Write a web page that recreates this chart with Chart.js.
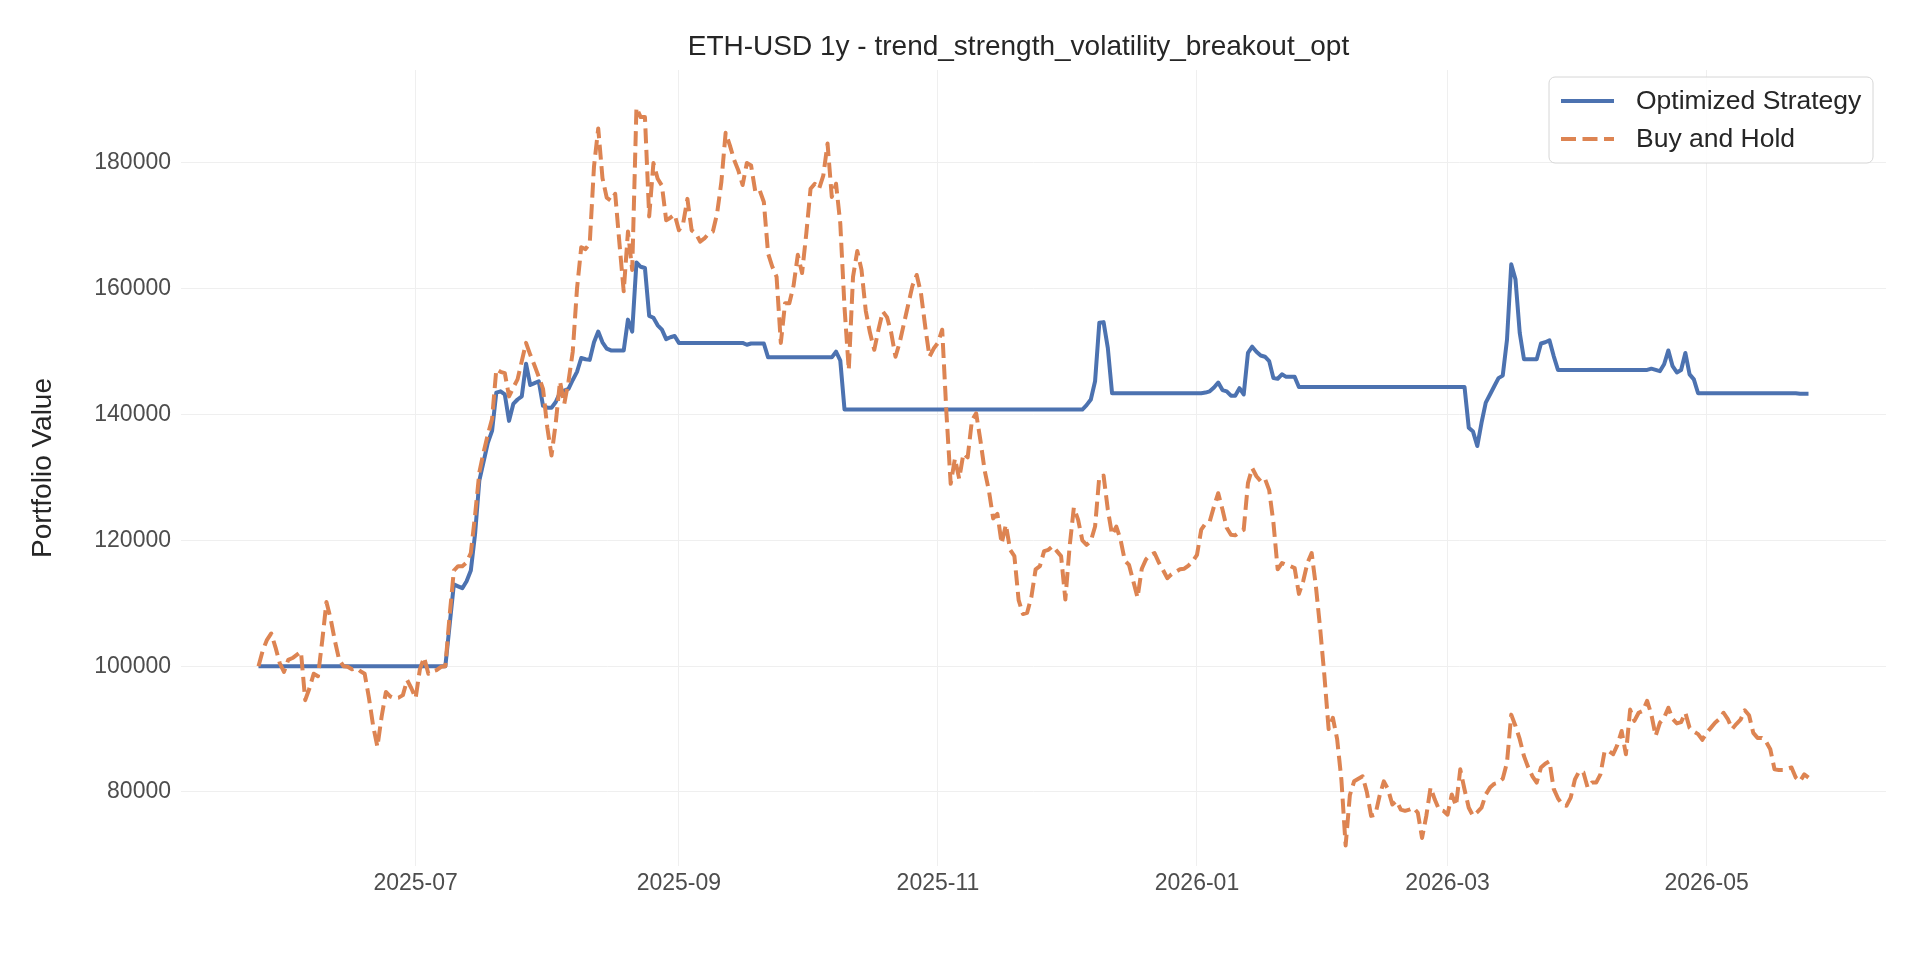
<!DOCTYPE html>
<html><head><meta charset="utf-8">
<script src="https://cdn.jsdelivr.net/npm/chart.js@4.4.1/dist/chart.umd.min.js"></script>
<style>html,body{margin:0;padding:0;background:#fff;}#wrap{width:1920px;height:960px;}</style>
</head><body>
<div id="wrap"><canvas id="c" width="1920" height="960"></canvas></div>
<script>
// ---------------- DATA ----------------
const START_DATE = '2025-05-25';   // first daily observation
const chartTitle = 'ETH-USD 1y - trend_strength_volatility_breakout_opt';
const yAxisTitle = 'Portfolio Value';
const seriesLabels = ['Optimized Strategy', 'Buy and Hold'];
const xTickLabels = ['2025-07', '2025-09', '2025-11', '2026-01', '2026-03', '2026-05'];
const yTickValues = [80000, 100000, 120000, 140000, 160000, 180000];

const strategyValues = [
100000,100000,100000,100000,100000,100000,100000,100000,100000,100000,
100000,100000,100000,100000,100000,100000,100000,100000,100000,100000,
100000,100000,100000,100000,100000,100000,100000,100000,100000,100000,
100000,100000,100000,100000,100000,100000,100000,100000,100000,100000,
100000,100000,100000,100000,100000,106500,113000,112700,112400,113500,
115200,121000,129500,132500,135500,137400,143500,143700,143200,139000,
141700,142400,142900,148100,144700,145000,145300,141400,141100,141100,
142000,143500,143800,144100,145500,146800,149000,148800,148700,151500,
153200,151500,150500,150200,150200,150200,150200,155100,153200,164200,
163500,163300,155700,155400,154200,153500,152000,152300,152500,151400,
151400,151400,151400,151400,151400,151400,151400,151400,151400,151400,
151400,151400,151400,151400,151400,151100,151300,151300,151300,151300,
149100,149100,149100,149100,149100,149100,149100,149100,149100,149100,
149100,149100,149100,149100,149100,149100,150000,148600,140800,140800,
140800,140800,140800,140800,140800,140800,140800,140800,140800,140800,
140800,140800,140800,140800,140800,140800,140800,140800,140800,140800,
140800,140800,140800,140800,140800,140800,140800,140800,140800,140800,
140800,140800,140800,140800,140800,140800,140800,140800,140800,140800,
140800,140800,140800,140800,140800,140800,140800,140800,140800,140800,
140800,140800,140800,140800,140800,141500,142400,145300,154600,154700,
150600,143400,143400,143400,143400,143400,143400,143400,143400,143400,
143400,143400,143400,143400,143400,143400,143400,143400,143400,143400,
143400,143400,143400,143500,143700,144300,145100,143900,143700,143000,
143000,144200,143200,149800,150800,150000,149400,149200,148500,145800,
145700,146400,146000,146000,146000,144400,144400,144400,144400,144400,
144400,144400,144400,144400,144400,144400,144400,144400,144400,144400,
144400,144400,144400,144400,144400,144400,144400,144400,144400,144400,
144400,144400,144400,144400,144400,144400,144400,144400,144400,144400,
144400,144400,144400,144400,144400,137900,137300,135000,138700,141900,
143200,144500,145800,146200,151900,163900,161500,153000,148800,148800,
148800,148800,151300,151500,151800,149300,147100,147100,147100,147100,
147100,147100,147100,147100,147100,147100,147100,147100,147100,147100,
147100,147100,147100,147100,147100,147100,147100,147100,147300,147100,
146900,148000,150200,147700,146700,147100,149800,146400,145600,143400,
143400,143400,143400,143400,143400,143400,143400,143400,143400,143400,
143400,143400,143400,143400,143400,143400,143400,143400,143400,143400,
143400,143400,143400,143300,143300,143300
];

const buyHoldValues = [
100000,102500,104200,105200,103000,100500,99100,101000,101300,101800,
102300,94600,96500,98800,98400,104000,110200,107500,104000,101000,
100000,99900,99500,99700,99200,98800,95000,90500,87200,92000,
95900,95200,94900,95000,95400,97800,96500,94900,99500,101400,
98800,99200,99400,99900,100000,108000,115200,115900,115900,116500,
118000,124000,130800,134000,136800,139300,147200,146800,146600,142900,
144300,145600,148500,151400,149500,147800,146000,144100,138000,133500,
138700,145300,141700,145300,150000,160000,166600,166300,167200,179400,
185500,177600,174500,174000,175100,167200,159600,169100,163000,188800,
187300,187300,171500,180000,177500,176400,170900,171300,171800,169300,
170400,174300,169300,168800,167500,168000,168800,169100,172000,177000,
184800,182800,180500,178800,176500,180000,179600,175400,175700,173800,
165600,163500,161900,151400,157700,157700,160500,165400,162500,168800,
175900,176700,175900,178000,183100,174600,176700,170400,157000,147100,
161900,166000,163000,156500,153000,150300,153500,156400,155500,153000,
149200,151500,154500,157500,160500,162200,159300,154000,149200,150500,
151400,153500,140200,129000,133000,129800,133800,133200,139100,140200,
135900,131100,127900,123500,124200,119500,122500,118500,117500,110500,
108300,108500,111000,115400,115900,118300,118500,119100,118300,117500,
110600,119000,125200,123300,120000,119300,119900,122200,130200,130300,
124900,120900,122200,120100,116800,116100,113500,110900,115500,117000,
117700,118000,116500,115300,114000,114600,115000,115400,115500,116000,
116700,117700,121700,122700,123000,125400,127500,124900,122000,120900,
120800,121300,121700,129100,131500,130200,129400,129800,128000,122800,
115400,116400,116100,115900,115600,111500,113500,116400,118000,112700,
106000,98500,90000,91800,88400,82000,71500,79500,81700,82100,
82500,80000,76200,76400,79400,81700,80400,78000,78600,77200,
77000,77200,77500,76700,72700,76200,80700,78800,77200,77000,
76400,79600,77800,83600,80400,77500,76200,76800,77500,79600,
80700,81300,81500,82100,84700,92300,90500,88400,85700,83900,
82500,81500,83900,84500,84900,80500,79000,78000,77800,79100,
82000,83300,83100,80700,81500,81500,82800,86500,86500,86000,
87500,89700,86000,93100,91300,92600,92900,94500,92300,88900,
91000,91800,93400,91600,90900,91100,92600,90200,89600,89200,
88300,89400,90200,91000,91600,92600,91600,90000,90800,91500,
93000,92200,89400,88600,88600,88000,86800,83600,83500,83500,
83700,83900,82300,81700,82800,82300
];

// ---------------- BUILD ----------------
const DAY_MS = 86400000;
const t0 = Date.parse(START_DATE + 'T00:00:00Z');
const dates = strategyValues.map((_, i) => new Date(t0 + i * DAY_MS).toISOString().slice(0, 10));
const dayOf = s => Math.round((Date.parse(s + 'T00:00:00Z') - t0) / DAY_MS);
const xTickDays = xTickLabels.map(l => dayOf(l + '-01'));
const toPoints = vals => vals.map((v, i) => ({ x: dayOf(dates[i]), y: v }));
const lastDay = dayOf(dates[dates.length - 1]);

const FONT = "'Liberation Sans', Arial, 'DejaVu Sans', sans-serif";
const BLUE = '#4C72B0', ORANGE = '#DD8452';

const titlePlugin = {
  id: 'figTitle',
  afterDraw(chart) {
    const ctx = chart.ctx, a = chart.chartArea;
    ctx.save();
    ctx.fillStyle = '#262626';
    ctx.font = '28px ' + FONT;
    ctx.textAlign = 'center';
    ctx.textBaseline = 'middle';
    ctx.fillText(chartTitle, (a.left + a.right) / 2 - 15, 47);
    ctx.restore();
  }
};

const legendPlugin = {
  id: 'boxLegend',
  afterDraw(chart) {
    const ctx = chart.ctx, a = chart.chartArea;
    const w = 324, h = 86;
    const x = a.right - 13 - w, y = a.top + 7;
    ctx.save();
    ctx.beginPath();
    ctx.roundRect(x, y, w, h, 6);
    ctx.fillStyle = 'rgba(255,255,255,0.85)';
    ctx.fill();
    ctx.lineWidth = 1;
    ctx.strokeStyle = '#d6d6d6';
    ctx.stroke();
    chart.data.datasets.forEach((ds, i) => {
      const cy = y + 24 + i * 38;
      ctx.beginPath();
      ctx.setLineDash(ds.borderDash || []);
      ctx.lineWidth = ds.borderWidth;
      ctx.strokeStyle = ds.borderColor;
      ctx.lineCap = 'butt';
      ctx.moveTo(x + 12, cy);
      ctx.lineTo(x + 65, cy);
      ctx.stroke();
      ctx.setLineDash([]);
      ctx.fillStyle = '#262626';
      ctx.font = '26.5px ' + FONT;
      ctx.textBaseline = 'middle';
      ctx.textAlign = 'left';
      ctx.fillText(ds.label, x + 87, cy + 1);
    });
    ctx.restore();
  }
};

new Chart(document.getElementById('c'), {
  type: 'line',
  data: {
    datasets: [
      { label: seriesLabels[0], data: toPoints(strategyValues), borderColor: BLUE, borderWidth: 4,
        pointRadius: 0, tension: 0, borderJoinStyle: 'round', fill: false, order: 1 },
      { label: seriesLabels[1], data: toPoints(buyHoldValues), borderColor: ORANGE, borderWidth: 4,
        borderDash: [15, 6.5], borderCapStyle: 'butt', borderJoinStyle: 'round',
        pointRadius: 0, tension: 0, fill: false, order: 0 }
    ]
  },
  options: {
    responsive: false, animation: false, devicePixelRatio: 1,
    layout: { padding: { left: 0, right: 34, top: 70, bottom: 0 } },
    plugins: {
      legend: { display: false },
      tooltip: { enabled: false },
      title: { display: false }
    },
    scales: {
      x: {
        type: 'linear', min: -0.05 * lastDay, max: lastDay * 1.05,
        border: { display: false },
        grid: { color: '#efefef', lineWidth: 1, drawTicks: false },
        afterBuildTicks: s => { s.ticks = xTickDays.map(v => ({ value: v })); },
        afterFit: s => { s.height = 94; },
        ticks: { autoSkip: false, maxRotation: 0, padding: 4, color: '#4d4d4d',
          font: { family: FONT, size: 23 },
          callback: v => { const k = xTickDays.indexOf(v); return k >= 0 ? xTickLabels[k] : ''; } }
      },
      y: {
        type: 'linear', min: 68235, max: 194785,
        border: { display: false },
        grid: { color: '#efefef', lineWidth: 1, drawTicks: false },
        afterBuildTicks: s => { s.ticks = yTickValues.map(v => ({ value: v })); },
        afterFit: s => { s.width = 181; },
        title: { display: true, text: yAxisTitle, color: '#262626',
          font: { family: FONT, size: 28 }, padding: { top: 26, bottom: 0 } },
        ticks: { padding: 10, color: '#4d4d4d', font: { family: FONT, size: 23 },
          callback: v => String(v) }
      }
    }
  },
  plugins: [titlePlugin, legendPlugin]
});
</script>
</body></html>
